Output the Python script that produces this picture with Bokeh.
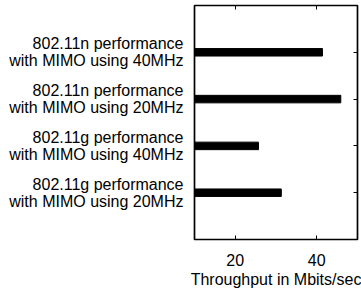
from bokeh.plotting import figure
from bokeh.models import FactorRange, Range1d, LinearAxis, CategoricalAxis, FixedTicker, CustomJSTickFormatter
from bokeh.embed import file_html
from bokeh.resources import INLINE

# data (top to bottom as in the chart)
labels = [
    "802.11n performance\nwith MIMO using 40MHz",
    "802.11n performance\nwith MIMO using 20MHz",
    "802.11g performance\nwith MIMO using 40MHz",
    "802.11g performance\nwith MIMO using 20MHz",
]
throughput = [41.4, 45.9, 25.7, 31.3]
x_ticks = [20, 40]
x_label = "Throughput in Mbits/sec"

factors = labels[::-1]
values = throughput[::-1]

FONT = "Liberation Sans"
FS = "16px"

p = figure(
    width=361, height=293,
    y_range=FactorRange(factors=factors, range_padding=0.5, range_padding_units="absolute"),
    x_range=Range1d(10, 50),
    output_backend="svg", toolbar_location=None,
    min_border_left=194, min_border_right=4, min_border_top=5, min_border_bottom=54,
)
p.hbar(y=factors, right=values, left=0, height=0.16, color="black")

p.xgrid.visible = False
p.ygrid.visible = False
p.outline_line_color = "black"
p.outline_line_width = 1.7
p.background_fill_color = "white"
p.border_fill_color = "white"

xa = p.xaxis[0]
xa.ticker = FixedTicker(ticks=x_ticks)
xa.axis_line_color = None
xa.major_tick_in = 4
xa.major_tick_out = 0
xa.minor_tick_line_color = None
xa.major_tick_line_color = "black"
xa.major_label_text_font = FONT
xa.major_label_text_font_size = FS
xa.major_label_text_color = "black"
xa.major_label_standoff = 14
xa.axis_label = x_label
xa.axis_label_text_font = FONT
xa.axis_label_text_font_size = FS
xa.axis_label_text_font_style = "normal"
xa.axis_label_text_color = "black"
xa.axis_label_standoff = 2

ya = p.yaxis[0]
ya.axis_line_color = None
ya.major_tick_in = 0
ya.major_tick_out = 0
ya.major_label_text_font = FONT
ya.major_label_text_font_size = FS
ya.major_label_text_color = "black"
ya.major_label_standoff = 11
ya.major_label_text_line_height = 1.0

empty = CustomJSTickFormatter(code="return ''")
top = LinearAxis(ticker=FixedTicker(ticks=x_ticks), formatter=empty,
                 axis_line_color=None, major_tick_in=4, major_tick_out=0,
                 minor_tick_line_color=None, major_label_standoff=0,
                 major_label_text_font_size="1px")
p.add_layout(top, "above")
right = CategoricalAxis(axis_line_color=None, major_tick_in=4, major_tick_out=0,
                        major_label_standoff=0, major_label_text_font_size="1px",
                        formatter=empty)
p.add_layout(right, "right")

open("out.html", "w").write(file_html(p, INLINE))
